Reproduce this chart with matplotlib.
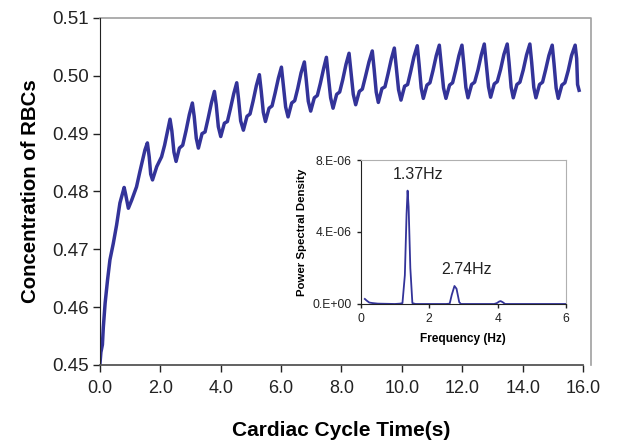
import matplotlib
matplotlib.use("Agg")
import matplotlib.pyplot as plt

plt.rcParams["font.family"] = ["Liberation Sans", "DejaVu Sans"]

LINE = "#333399"

# RBC concentration vs time (one cardiac cycle per row)
time_s = [
    0.00, 0.03, 0.08, 0.11, 0.17, 0.25, 0.33, 0.44, 0.55, 0.66,
    0.80, 0.85, 0.94, 1.05, 1.21, 1.32, 1.49,
    1.57, 1.63, 1.68, 1.74, 1.88, 2.04, 2.14, 2.24,
    2.32, 2.38, 2.45, 2.52, 2.63, 2.74, 2.85, 2.96,
    3.06, 3.12, 3.19, 3.26, 3.38, 3.48, 3.58, 3.69,
    3.79, 3.85, 3.92, 4.00, 4.12, 4.22, 4.32, 4.43,
    4.53, 4.59, 4.66, 4.75, 4.87, 4.97, 5.07, 5.18,
    5.28, 5.34, 5.41, 5.48, 5.60, 5.70, 5.80, 5.91,
    6.01, 6.07, 6.15, 6.23, 6.35, 6.45, 6.55, 6.66,
    6.77, 6.83, 6.90, 6.98, 7.10, 7.20, 7.30, 7.41,
    7.50, 7.56, 7.64, 7.72, 7.84, 7.94, 8.04, 8.15,
    8.25, 8.31, 8.39, 8.47, 8.59, 8.69, 8.79, 8.91,
    9.02, 9.08, 9.15, 9.22, 9.34, 9.44, 9.54, 9.65,
    9.75, 9.81, 9.89, 9.97, 10.09, 10.19, 10.29, 10.40,
    10.51, 10.57, 10.64, 10.71, 10.83, 10.93, 11.03, 11.14,
    11.24, 11.30, 11.38, 11.46, 11.58, 11.68, 11.78, 11.89,
    11.99, 12.05, 12.12, 12.19, 12.31, 12.41, 12.52, 12.63,
    12.73, 12.79, 12.87, 12.94, 13.06, 13.16, 13.27, 13.38,
    13.49, 13.55, 13.62, 13.69, 13.81, 13.91, 14.02, 14.13,
    14.24, 14.30, 14.37, 14.44, 14.56, 14.66, 14.76, 14.87,
    14.98, 15.04, 15.11, 15.18, 15.30, 15.40, 15.51, 15.62,
    15.74, 15.79, 15.82, 15.87,
]
rbc_conc = [
    0.4503, 0.4522, 0.4535, 0.4565, 0.4607, 0.4647, 0.4682, 0.4710, 0.4742, 0.4780,
    0.4807, 0.4795, 0.4771, 0.4785, 0.4808, 0.4834, 0.4872,
    0.4884, 0.4860, 0.4830, 0.4820, 0.4843, 0.4860, 0.4880, 0.4905,
    0.4925, 0.4905, 0.4868, 0.4852, 0.4875, 0.4880, 0.4905, 0.4933,
    0.4953, 0.4930, 0.4892, 0.4875, 0.4900, 0.4903, 0.4926, 0.4953,
    0.4973, 0.4950, 0.4912, 0.4895, 0.4918, 0.4921, 0.4943, 0.4969,
    0.4988, 0.4960, 0.4922, 0.4906, 0.4930, 0.4934, 0.4956, 0.4983,
    0.5002, 0.4974, 0.4937, 0.4921, 0.4944, 0.4948, 0.4970, 0.4996,
    0.5015, 0.4985, 0.4946, 0.4929, 0.4953, 0.4957, 0.4978, 0.5005,
    0.5024, 0.4994, 0.4956, 0.4939, 0.4962, 0.4966, 0.4987, 0.5013,
    0.5032, 0.5001, 0.4962, 0.4944, 0.4968, 0.4972, 0.4993, 0.5020,
    0.5039, 0.5008, 0.4968, 0.4950, 0.4973, 0.4977, 0.4998, 0.5024,
    0.5043, 0.5012, 0.4972, 0.4954, 0.4978, 0.4981, 0.5003, 0.5029,
    0.5048, 0.5017, 0.4976, 0.4958, 0.4982, 0.4985, 0.5007, 0.5033,
    0.5052, 0.5020, 0.4979, 0.4961, 0.4984, 0.4988, 0.5009, 0.5035,
    0.5053, 0.5021, 0.4979, 0.4961, 0.4984, 0.4988, 0.5009, 0.5035,
    0.5053, 0.5021, 0.4980, 0.4962, 0.4985, 0.4989, 0.5010, 0.5036,
    0.5055, 0.5023, 0.4981, 0.4963, 0.4986, 0.4990, 0.5011, 0.5037,
    0.5055, 0.5023, 0.4980, 0.4962, 0.4985, 0.4989, 0.5010, 0.5036,
    0.5055, 0.5023, 0.4980, 0.4962, 0.4985, 0.4989, 0.5010, 0.5035,
    0.5053, 0.5021, 0.4979, 0.4961, 0.4984, 0.4988, 0.5009, 0.5035,
    0.5053, 0.5030, 0.4985, 0.4975,
]

# power spectral density of the signal above
freq_hz = [0.12, 0.18, 0.25, 0.35, 0.50, 1.00, 1.15, 1.22, 1.29, 1.34, 1.37,
           1.40, 1.45, 1.51, 1.60, 2.50, 2.60, 2.66, 2.74, 2.80, 2.88, 2.93,
           3.90, 3.98, 4.05, 4.09, 4.15, 4.22, 5.00, 6.00]
psd = [0.28e-6, 0.18e-6, 0.08e-6, 0.05e-6, 0.02e-6, 0.0, 0.02e-6, 0.05e-6,
       1.6e-6, 5.0e-6, 6.3e-6, 5.4e-6, 2.0e-6, 0.05e-6, 0.0, 0.0, 0.02e-6,
       0.5e-6, 1.0e-6, 0.85e-6, 0.1e-6, 0.0, 0.0, 0.05e-6, 0.14e-6,
       0.16e-6, 0.1e-6, 0.0, 0.0, 0.0]

x_ticks = [0, 2, 4, 6, 8, 10, 12, 14, 16]
y_ticks = [0.45, 0.46, 0.47, 0.48, 0.49, 0.50, 0.51]
psd_ticks = [0, 4e-6, 8e-6]
psd_tick_labels = ["0.E+00", "4.E-06", "8.E-06"]
peak_labels = [(1.68, 7.2e-6, "1.37Hz"), (3.08, 1.93e-6, "2.74Hz")]

fig = plt.figure(figsize=(6.23, 4.43), dpi=100)
ax = fig.add_axes([0.1605, 0.1761, 0.7753, 0.7833])
ax.plot(time_s, rbc_conc, color=LINE, lw=2.5, solid_joinstyle="round")
ax.set_xlim(0, 16)
ax.set_ylim(0.45, 0.51)
ax.set_xticks(x_ticks)
ax.set_xticklabels([f"{v:.1f}" for v in x_ticks])
ax.set_yticks(y_ticks)
ax.set_yticklabels([f"{v:.2f}" for v in y_ticks])
ax.tick_params(direction="out", length=5, width=1, colors="#222222")
ax.tick_params(axis="y", labelsize=13.5, pad=3)
ax.tick_params(axis="x", labelsize=13, pad=6)
ax.spines["left"].set_color("#222222")
ax.spines["bottom"].set_color("#555555")
ax.spines["bottom"].set_linewidth(1.3)
ax.spines["top"].set_visible(False)
ax.spines["right"].set_visible(False)
# grey plot-area frame, a little wider than the axis
ax.plot([0, 1.017, 1.017], [1, 1, 0], transform=ax.transAxes, color="#a0a0a0",
        lw=1.2, clip_on=False)
ax.set_xlabel("Cardiac Cycle Time(s)", fontsize=15, fontweight="bold", labelpad=17)
ax.set_ylabel("Concentration of RBCs", fontsize=14.7, fontweight="bold", labelpad=9)

ins = fig.add_axes([0.579, 0.3138, 0.3295, 0.325])
ins.plot(freq_hz, psd, color=LINE, lw=1.3)
ins.set_xlim(0, 6)
ins.set_ylim(0, 8e-6)
ins.set_xticks([0, 2, 4, 6])
ins.set_yticks(psd_ticks)
ins.set_yticklabels(psd_tick_labels)
ins.tick_params(direction="out", length=3, width=1, labelsize=8.7, colors="#222222")
ins.spines["top"].set_color("#b0b0b0")
ins.spines["right"].set_color("#b0b0b0")
ins.spines["left"].set_color("#222222")
ins.spines["bottom"].set_color("#222222")
ins.set_xlabel("Frequency (Hz)", fontsize=8.6, fontweight="bold", labelpad=6)
ins.set_ylabel("Power Spectral Density", fontsize=8.2, fontweight="bold", labelpad=4)
for fx, fy, txt in peak_labels:
    ins.text(fx, fy, txt, fontsize=11.5, ha="center", va="center", color="#222222")

fig.savefig("out.png", dpi=100, facecolor="white")
